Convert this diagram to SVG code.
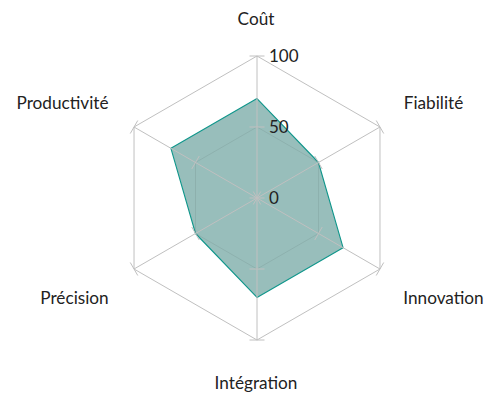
<svg xmlns="http://www.w3.org/2000/svg" width="486" height="394" viewBox="0 0 486 394">
<style>
.grid{fill:none;stroke:#c0c0c0;stroke-width:1}
.ring{fill:none;stroke:#000;stroke-opacity:0.07;stroke-width:1}
.tick{stroke:#c0c0c0;stroke-width:1}
.data{fill:#98bebb;stroke:#0f968b;stroke-width:1.1;stroke-linejoin:round}
.lbl{font-family:Lato,"Open Sans",sans-serif;font-size:17.2px;fill:#222}
.axl{font-family:Lato,"Open Sans",sans-serif;font-size:17px;fill:#222}
</style>
<rect width="486" height="394" fill="#fff"/>
<g id="grid">
<polygon class="grid" points="257,56 379.98,127 379.98,269 257,340 134.02,269 134.02,127"/>
</g>
<g id="series">
<polygon class="data" points="257,98.6 318.49,162.5 343.08,247.7 257,297.4 195.51,233.5 170.92,148.3"/>
</g>
<g id="ring50">
<polygon class="ring" points="257,127 318.49,162.5 318.49,233.5 257,269 195.51,233.5 195.51,162.5"/>
</g>
<g id="connectors">
<g class="tick">
<line x1="257" y1="198" x2="257" y2="56"/>
<line x1="257" y1="198" x2="379.98" y2="127"/>
<line x1="257" y1="198" x2="379.98" y2="269"/>
<line x1="257" y1="198" x2="257" y2="340"/>
<line x1="257" y1="198" x2="134.02" y2="269"/>
<line x1="257" y1="198" x2="134.02" y2="127"/>
</g>
</g>
<g id="ticks" class="tick">
<line x1="249.5" y1="56" x2="264.5" y2="56"/>
<line x1="249.5" y1="127" x2="264.5" y2="127"/>
<line x1="249.5" y1="198" x2="264.5" y2="198"/>
<line x1="249.5" y1="340" x2="264.5" y2="340"/>
<line x1="249.5" y1="269" x2="264.5" y2="269"/>
<line x1="376.23" y1="120.5" x2="383.73" y2="133.5"/>
<line x1="314.74" y1="156" x2="322.24" y2="169"/>
<line x1="253.25" y1="191.5" x2="260.75" y2="204.5"/>
<line x1="376.23" y1="275.5" x2="383.73" y2="262.5"/>
<line x1="314.74" y1="240" x2="322.24" y2="227"/>
<line x1="253.25" y1="204.5" x2="260.75" y2="191.5"/>
<line x1="130.27" y1="262.5" x2="137.77" y2="275.5"/>
<line x1="191.76" y1="227" x2="199.26" y2="240"/>
<line x1="130.27" y1="133.5" x2="137.77" y2="120.5"/>
<line x1="191.76" y1="169" x2="199.26" y2="156"/>
</g>
<g id="labels">
<text class="lbl" x="256" y="25" text-anchor="middle">Coût</text>
<text class="lbl" x="433.5" y="109" text-anchor="middle">Fiabilité</text>
<text class="lbl" x="443.5" y="304" text-anchor="middle">Innovation</text>
<text class="lbl" x="256" y="389" text-anchor="middle">Intégration</text>
<text class="lbl" x="74.5" y="304" text-anchor="middle">Précision</text>
<text class="lbl" x="62.5" y="109" text-anchor="middle">Productivité</text>
<text class="axl" x="269" y="62">100</text>
<text class="axl" x="269" y="133">50</text>
<text class="axl" x="269" y="204">0</text>
</g>
</svg>
